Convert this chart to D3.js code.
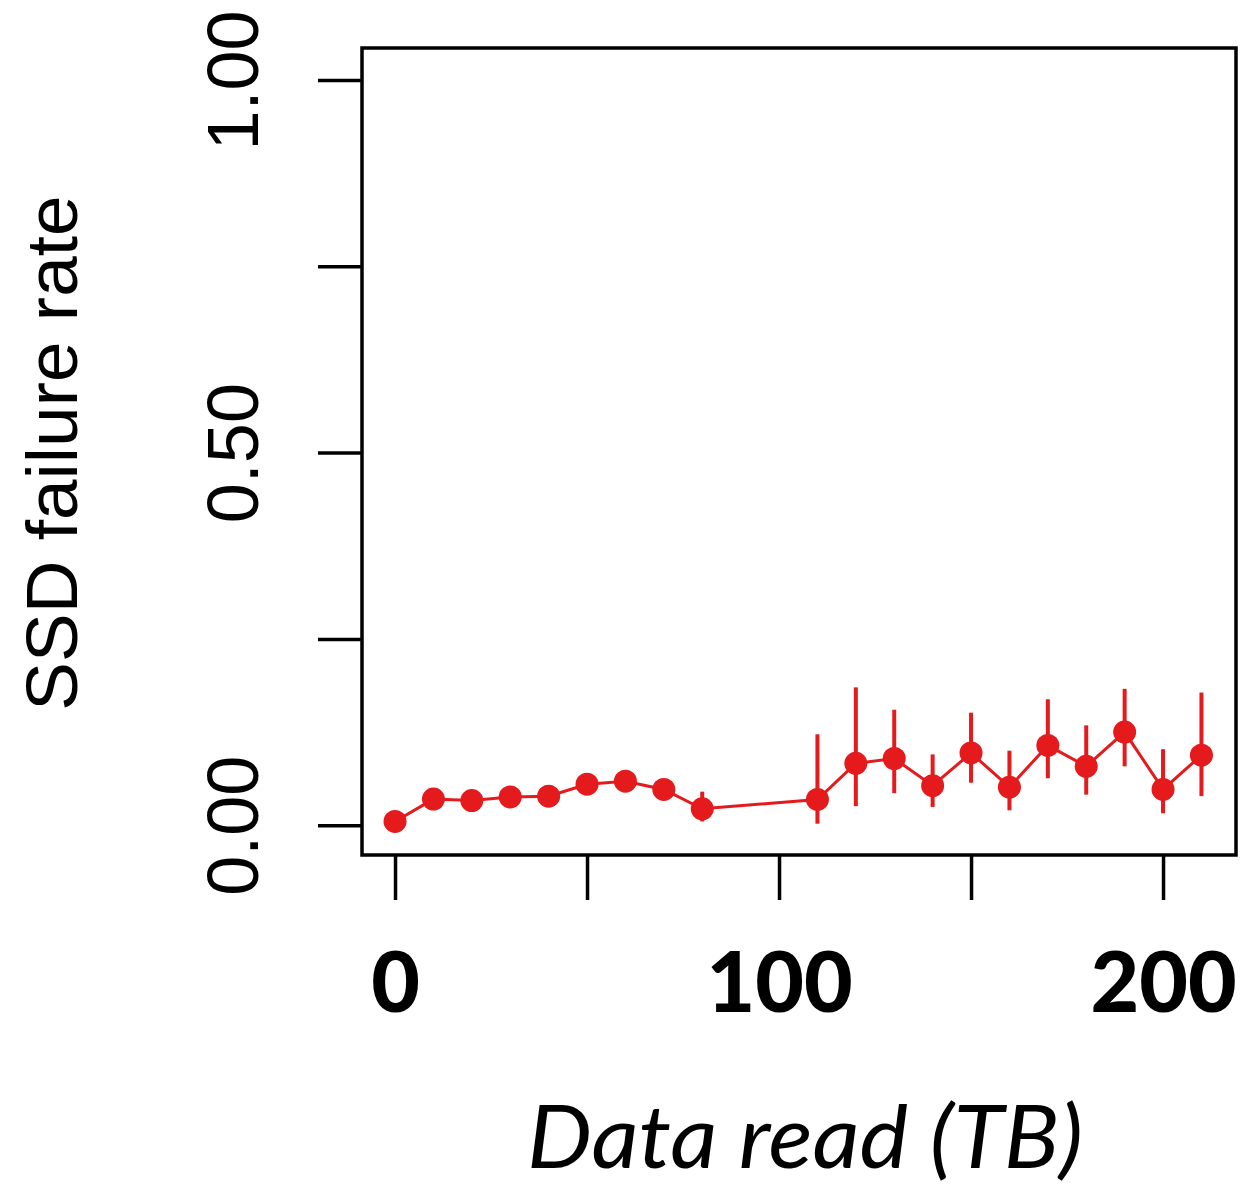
<!DOCTYPE html>
<html>
<head>
<meta charset="utf-8">
<script src="https://cdn.jsdelivr.net/npm/d3@7"></script>
<style>
  body { margin: 0; background: #fff; }
</style>
</head>
<body>
<script>
// values
const dataRead = [0, 10, 20, 30, 40, 50, 60, 70, 80, 110, 120, 130, 140, 150, 160, 170, 180, 190, 200, 210];
const failRate = [0.005, 0.035, 0.033, 0.038, 0.039, 0.055, 0.059, 0.048, 0.022, 0.0345, 0.083, 0.0895, 0.053, 0.097, 0.051, 0.107, 0.079, 0.125, 0.048, 0.094];
const errLow   = [null, null, null, null, null, null, null, null, 0.005, 0.002, 0.0255, 0.043, 0.0245, 0.057, 0.020, 0.063, 0.041, 0.079, 0.016, 0.039];
const errHigh  = [null, null, null, null, null, null, null, null, 0.045, 0.122, 0.185, 0.155, 0.095, 0.151, 0.100, 0.169, 0.134, 0.183, 0.102, 0.178];
const xTicks = [0, 50, 100, 150, 200];
const yTicks = [0, 0.25, 0.5, 0.75, 1];
const yLabels = {0: "0.00", 0.5: "0.50", 1: "1.00"};

const width = 1246, height = 1187;
const red = "#e41a1c";

const svg = d3.select("body").append("svg")
    .attr("width", width)
    .attr("height", height);

const x = d3.scaleLinear().domain([-8.6, 219]).range([362, 1236]);
const y = d3.scaleLinear().domain([-0.04, 1.043]).range([855, 48]);

const pts = dataRead.map((d, i) => ({x: d, y: failRate[i], lo: errLow[i], hi: errHigh[i]}));

// y axis
const yAxis = svg.append("g")
    .attr("transform", "translate(362,0)")
    .call(d3.axisLeft(y).tickValues(yTicks).tickSize(44).tickFormat(d => yLabels[d] || ""));
yAxis.select(".domain").remove();
yAxis.selectAll(".tick line").attr("stroke", "#000").attr("stroke-width", 3.5);
yAxis.selectAll(".tick text")
    .attr("transform", "rotate(-90)")
    .attr("x", 0).attr("y", -104).attr("dy", 0)
    .attr("text-anchor", "middle")
    .attr("fill", "#000")
    .style("font-family", "'Liberation Sans', Arial, sans-serif")
    .style("font-size", "72px");

// x axis
const xAxis = svg.append("g")
    .attr("transform", "translate(0,855)")
    .call(d3.axisBottom(x).tickValues(xTicks).tickSize(45).tickFormat(d => d % 100 === 0 ? d : ""));
xAxis.select(".domain").remove();
xAxis.selectAll(".tick line").attr("stroke", "#000").attr("stroke-width", 3.5);
xAxis.selectAll(".tick text")
    .attr("y", 157).attr("dy", 0)
    .attr("fill", "#000")
    .style("font-family", "Lato, sans-serif")
    .style("font-weight", 900)
    .style("font-size", "84px");

// plot box
svg.append("rect")
    .attr("x", 362).attr("y", 48)
    .attr("width", 1236 - 362).attr("height", 855 - 48)
    .attr("fill", "none")
    .attr("stroke", "#000")
    .attr("stroke-width", 3.5);

// error bars
svg.append("g").selectAll("line")
    .data(pts.filter(d => d.hi !== null))
    .join("line")
    .attr("x1", d => x(d.x)).attr("x2", d => x(d.x))
    .attr("y1", d => y(d.lo)).attr("y2", d => y(d.hi))
    .attr("stroke", red)
    .attr("stroke-width", 4);

// connecting line
svg.append("path")
    .datum(pts)
    .attr("fill", "none")
    .attr("stroke", red)
    .attr("stroke-width", 3)
    .attr("d", d3.line().x(d => x(d.x)).y(d => y(d.y)));

svg.append("g").selectAll("circle")
    .data(pts)
    .join("circle")
    .attr("cx", d => x(d.x))
    .attr("cy", d => y(d.y))
    .attr("r", 11.5)
    .attr("fill", red);

// axis titles
svg.append("text")
    .attr("transform", "translate(77,453) rotate(-90)")
    .attr("text-anchor", "middle")
    .style("font-family", "'Liberation Sans', Arial, sans-serif")
    .style("font-size", "73px")
    .text("SSD failure rate");

svg.append("text")
    .attr("x", 805).attr("y", 1168)
    .attr("text-anchor", "middle")
    .attr("textLength", 556)
    .attr("lengthAdjust", "spacingAndGlyphs")
    .style("font-family", "Lato, sans-serif")
    .style("font-style", "italic")
    .style("font-size", "88px")
    .text("Data read (TB)");
</script>
</body>
</html>
